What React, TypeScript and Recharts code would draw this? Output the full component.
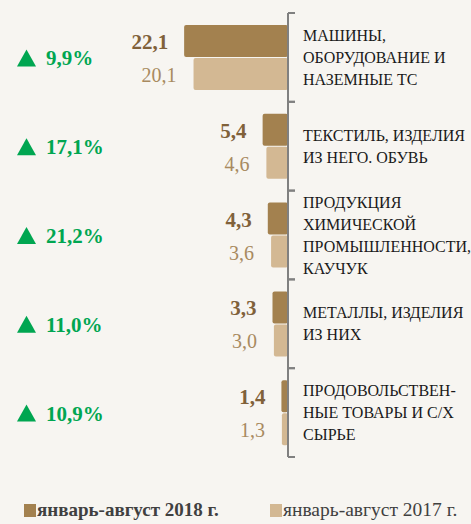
import { Bar, BarChart, LabelList, Legend, XAxis, YAxis } from "recharts";

const categories = [
  "МАШИНЫ,|ОБОРУДОВАНИЕ И|НАЗЕМНЫЕ ТС",
  "ТЕКСТИЛЬ, ИЗДЕЛИЯ|ИЗ НЕГО. ОБУВЬ",
  "ПРОДУКЦИЯ|ХИМИЧЕСКОЙ|ПРОМЫШЛЕННОСТИ,|КАУЧУК",
  "МЕТАЛЛЫ, ИЗДЕЛИЯ|ИЗ НИХ",
  "ПРОДОВОЛЬСТВЕН-|НЫЕ ТОВАРЫ И С/Х|СЫРЬЕ",
];
const values2018 = [22.1, 5.4, 4.3, 3.3, 1.4];
const values2017 = [20.1, 4.6, 3.6, 3.0, 1.3];
const growth = [9.9, 17.1, 21.2, 11.0, 10.9];
const seriesNames = ["январь-август 2018 г.", "январь-август 2017 г."];

const data = categories.map((name, i) => ({
  name,
  y2018: values2018[i],
  y2017: values2017[i],
  growth: growth[i],
}));

const W = 471;
const H = 524;
const LEGEND_H = 24;
const MARGIN = { top: 13, right: 0, left: 0, bottom: 43 };
const PLOT_H = H - MARGIN.top - MARGIN.bottom - LEGEND_H;
const BAND = PLOT_H / categories.length;

const DARK = "#a3814f";
const LIGHT = "#d3b893";
const GREEN = "#00a651";
const FONT = "'Times New Roman', 'Liberation Serif', serif";

const fmt = (v: number) => v.toFixed(1).replace(".", ",");

function CategoryTick(props: any) {
  const { x, y, payload } = props;
  const lines = String(payload.value).split("|");
  const lh = 22;
  const start = y - ((lines.length - 1) * lh) / 2;
  return (
    <g>
      <line x1={x - 15} x2={x - 8} y1={y - BAND / 2} y2={y - BAND / 2} stroke="#808080" strokeWidth={2} />
      <line x1={x - 15} x2={x - 8} y1={y + BAND / 2} y2={y + BAND / 2} stroke="#808080" strokeWidth={2} />
      <text x={x} y={start} style={{ fontFamily: FONT, fontSize: 16 }} fill="#1a1a1a" textAnchor="start">
        {lines.map((l, i) => (
          <tspan key={i} x={x} y={start + i * lh} dominantBaseline="central">
            {l}
          </tspan>
        ))}
      </text>
    </g>
  );
}

function GrowthTick(props: any) {
  const { y, payload } = props;
  const g = data[payload.index]?.growth ?? 0;
  const tx = 17;
  return (
    <g>
      <polygon points={`${tx},${y + 9} ${tx + 19},${y + 9} ${tx + 9.5},${y - 8}`} fill={GREEN} />
      <text
        x={tx + 29}
        y={y + 1}
        style={{ fontFamily: FONT, fontSize: 21, fontWeight: "bold" }}
        fill={GREEN}
        dominantBaseline="central"
      >
        {fmt(g) + "%"}
      </text>
    </g>
  );
}

const valueLabel = (color: string, bold: boolean, gap: number) => (props: any) => {
  const { x, y, width, height, value } = props;
  const left = Math.min(x, x + width);
  return (
    <text
      x={left - gap}
      y={y + height / 2 + 1}
      textAnchor="end"
      dominantBaseline="central"
      style={{ fontFamily: FONT, fontSize: bold ? 21 : 20, fontWeight: bold ? "bold" : "normal" }}
      fill={color}
    >
      {fmt(value)}
    </text>
  );
};

function LegendContent() {
  const colors = [DARK, LIGHT];
  const xs = [24, 270];
  const sizes = [19, 19.5];
  return (
    <div style={{ position: "relative", width: W, height: LEGEND_H, fontFamily: FONT }}>
      {seriesNames.map((n, i) => (
        <div
          key={n}
          style={{
            position: "absolute",
            left: xs[i],
            top: 0,
            display: "flex",
            alignItems: "center",
            fontSize: sizes[i],
            fontWeight: i === 0 ? "bold" : "normal",
            color: "#404040",
            whiteSpace: "nowrap",
          }}
        >
          <span style={{ display: "inline-block", width: 12, height: 13, background: colors[i], marginRight: 1 }} />
          {n}
        </div>
      ))}
    </div>
  );
}

export default function App() {
  return (
    <div style={{ position: "absolute", left: 0, top: 0, width: W, height: H, background: "#f7f5f1" }}>
      <BarChart
        width={W}
        height={H}
        data={data}
        layout="vertical"
        margin={MARGIN}
        barCategoryGap={12}
        barGap={1}
      >
        <XAxis type="number" reversed domain={[0, 40]} hide />
        <YAxis
          yAxisId="cat"
          type="category"
          dataKey="name"
          orientation="right"
          width={183}
          axisLine={{ stroke: "#808080", strokeWidth: 2 }}
          tickLine={false}
          tickSize={0}
          tickMargin={15}
          tick={<CategoryTick />}
          interval={0}
        />
        <YAxis
          yAxisId="g"
          type="category"
          dataKey="name"
          orientation="left"
          width={100}
          axisLine={false}
          tickLine={false}
          tick={<GrowthTick />}
          interval={0}
        />
        <Bar yAxisId="cat" dataKey="y2018" name={seriesNames[0]} fill={DARK} radius={2} isAnimationActive={false}>
          <LabelList dataKey="y2018" content={valueLabel("#80613a", true, 16)} />
        </Bar>
        <Bar yAxisId="cat" dataKey="y2017" name={seriesNames[1]} fill={LIGHT} radius={2} isAnimationActive={false}>
          <LabelList dataKey="y2017" content={valueLabel("#a88a60", false, 17)} />
        </Bar>
        <Legend content={<LegendContent />} wrapperStyle={{ left: 0, top: 499, width: W }} />
      </BarChart>
    </div>
  );
}
